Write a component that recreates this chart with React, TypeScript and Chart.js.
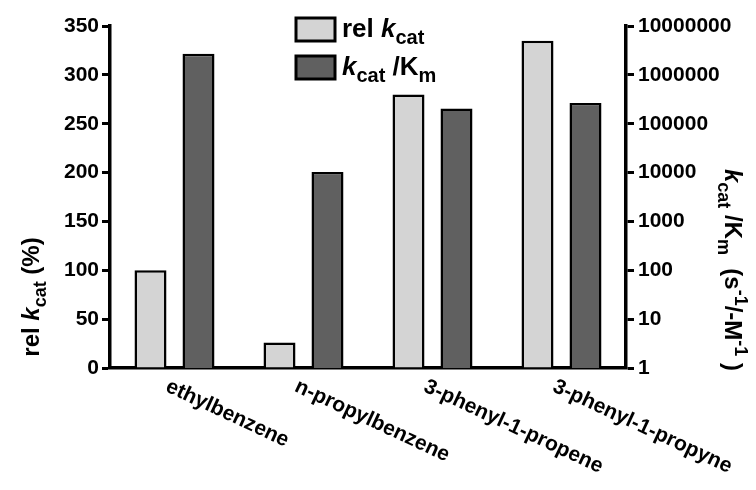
import React, { useEffect, useRef } from 'react';
import { Chart, registerables } from 'chart.js';

Chart.register(...registerables);

const categories = ['ethylbenzene', 'n-propylbenzene', '3-phenyl-1-propene', '3-phenyl-1-propyne'];
const relKcat = [100, 26, 280, 335];
const kcatKm = [2700000, 10300, 204000, 266000];
const leftMin = 0;
const leftMax = 350;
const leftStep = 50;
const rightTicks = [1, 10, 100, 1000, 10000, 100000, 1000000, 10000000];

const LIGHT = '#d4d4d4';
const DARK = '#606060';
const FONT = '"Liberation Sans", Arial, Helvetica, sans-serif';

type Seg = { t: string; i?: boolean; s?: 'sub' | 'sup' };

const leftTitle: Seg[] = [{ t: 'rel ' }, { t: 'k', i: true }, { t: 'cat', s: 'sub' }, { t: ' (%)' }];
const rightTitle: Seg[] = [
  { t: 'k', i: true }, { t: 'cat', s: 'sub' }, { t: ' /K' }, { t: 'm', s: 'sub' },
  { t: '  (s' }, { t: '-1', s: 'sup' }, { t: '/-M' }, { t: '-1', s: 'sup' }, { t: ' )' },
];
const legendRel: Seg[] = [{ t: 'rel ' }, { t: 'k', i: true }, { t: 'cat', s: 'sub' }];
const legendKm: Seg[] = [{ t: 'k', i: true }, { t: 'cat', s: 'sub' }, { t: ' /K' }, { t: 'm', s: 'sub' }];

function segFont(seg: Seg, size: number, small: number) {
  return `${seg.i ? 'italic ' : ''}bold ${seg.s ? small : size}px ${FONT}`;
}
function richWidth(ctx: CanvasRenderingContext2D, segs: Seg[], size: number, small: number) {
  let w = 0;
  for (const s of segs) {
    ctx.font = segFont(s, size, small);
    w += ctx.measureText(s.t).width;
  }
  return w;
}
function drawRich(ctx: CanvasRenderingContext2D, segs: Seg[], x: number, y: number, size: number, small: number, align: 'left' | 'center') {
  let cx = align === 'center' ? x - richWidth(ctx, segs, size, small) / 2 : x;
  ctx.textAlign = 'left';
  ctx.textBaseline = 'alphabetic';
  ctx.fillStyle = '#000';
  for (const s of segs) {
    ctx.font = segFont(s, size, small);
    const dy = s.s === 'sub' ? size * 0.28 : s.s === 'sup' ? -size * 0.42 : 0;
    ctx.fillText(s.t, cx, y + dy);
    cx += ctx.measureText(s.t).width;
  }
}

const decorPlugin = {
  id: 'decor',
  afterDraw(chart: any) {
    const ctx: CanvasRenderingContext2D = chart.ctx;
    const xScale = chart.scales.x;
    ctx.save();
    // x category labels, rotated clockwise
    ctx.font = `bold 21px ${FONT}`;
    ctx.fillStyle = '#000';
    categories.forEach((c, i) => {
      const px = xScale.getPixelForValue(i);
      ctx.save();
      ctx.translate(px - 3, 376);
      ctx.rotate((25 * Math.PI) / 180);
      ctx.textAlign = 'left';
      ctx.textBaseline = 'top';
      ctx.fillText(c, 0, 0);
      ctx.restore();
    });
    // left title
    ctx.save();
    ctx.translate(39, 297);
    ctx.rotate(-Math.PI / 2);
    drawRich(ctx, leftTitle, 0, 0, 24, 18, 'center');
    ctx.restore();
    // right title
    ctx.save();
    ctx.translate(725, 270);
    ctx.rotate(Math.PI / 2);
    drawRich(ctx, rightTitle, 0, 0, 24, 18, 'center');
    ctx.restore();
    // legend
    const rows: [Seg[], string, number][] = [
      [legendRel, LIGHT, 18],
      [legendKm, DARK, 56],
    ];
    for (const [segs, col, top] of rows) {
      ctx.fillStyle = col;
      ctx.fillRect(296, top, 39, 23);
      ctx.strokeStyle = '#000';
      ctx.lineWidth = 3;
      ctx.strokeRect(296, top, 39, 23);
      drawRich(ctx, segs, 342, top + 19, 26, 20, 'left');
    }
    ctx.restore();
  },
};

export default function App() {
  const ref = useRef<HTMLCanvasElement | null>(null);
  useEffect(() => {
    if (!ref.current) return;
    const tickFont = { family: FONT, size: 21, weight: 'bold' as const };
    const chart = new Chart(ref.current, {
      type: 'bar',
      data: {
        labels: categories,
        datasets: [
          {
            label: 'rel kcat',
            data: relKcat,
            yAxisID: 'y',
            backgroundColor: LIGHT,
            borderColor: '#000',
            borderWidth: 2.5,
            categoryPercentage: 0.744,
            barPercentage: 0.667,
          },
          {
            label: 'kcat /Km',
            data: kcatKm,
            yAxisID: 'y2',
            backgroundColor: DARK,
            borderColor: '#000',
            borderWidth: 2.5,
            categoryPercentage: 0.744,
            barPercentage: 0.667,
          },
        ],
      },
      options: {
        animation: false,
        responsive: true,
        maintainAspectRatio: false,
        layout: { padding: { top: 26, left: 0, right: 0, bottom: 0 } },
        plugins: { legend: { display: false }, tooltip: { enabled: false } },
        scales: {
          x: {
            grid: { display: false },
            border: { display: true, color: '#000', width: 3.5 },
            ticks: { display: false },
            afterFit: (s: any) => { s.height = 122; },
          },
          y: {
            position: 'left',
            min: leftMin,
            max: leftMax,
            ticks: { stepSize: leftStep, color: '#000', font: tickFont, padding: 3 },
            grid: { drawOnChartArea: false, color: '#000', tickColor: '#000', tickLength: 8, tickWidth: 3 },
            border: { display: true, color: '#000', width: 3.5 },
            afterFit: (s: any) => { s.width = 110; },
          },
          y2: {
            type: 'logarithmic',
            position: 'right',
            min: 1,
            max: 10000000,
            afterBuildTicks: (s: any) => { s.ticks = rightTicks.map((v) => ({ value: v })); },
            ticks: { color: '#000', font: tickFont, padding: 4, autoSkip: false, callback: (v: any) => String(v) },
            grid: { drawOnChartArea: false, color: '#000', tickColor: '#000', tickLength: 8, tickWidth: 3 },
            border: { display: true, color: '#000', width: 3.5 },
            afterFit: (s: any) => { s.width = 130; },
          },
        },
      },
      plugins: [decorPlugin],
    });
    return () => chart.destroy();
  }, []);
  return (
    <div style={{ position: 'fixed', left: 0, top: 0, width: 756, height: 490, background: '#fff' }}>
      <canvas ref={ref} />
    </div>
  );
}
